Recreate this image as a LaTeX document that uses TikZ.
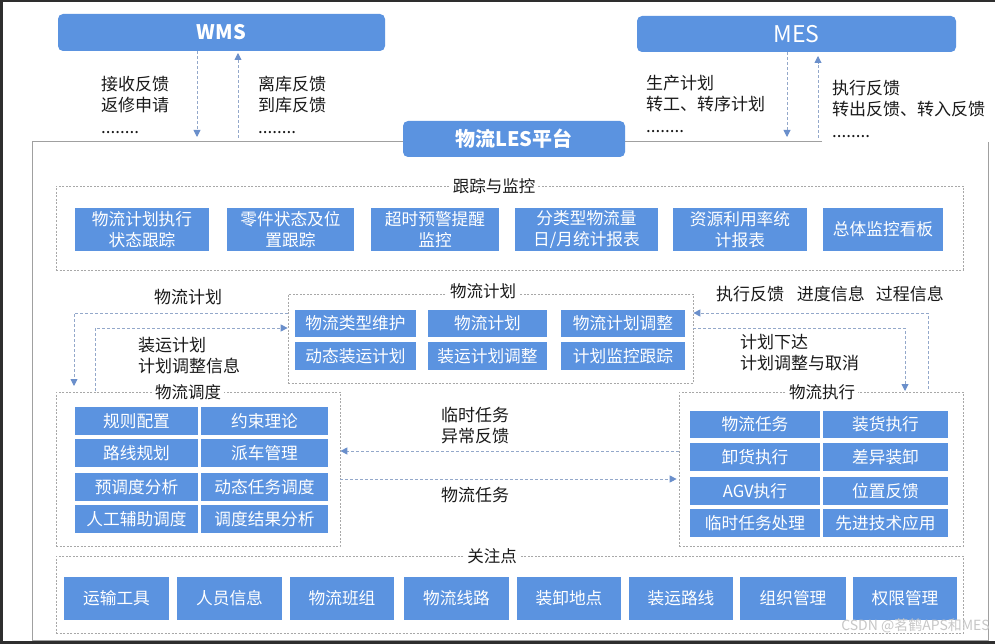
\documentclass[tikz,border=0pt]{standalone}
\usepackage{fontspec}
\setmainfont{Noto Sans CJK SC}
\usetikzlibrary{arrows.meta}
\definecolor{boxblue}{HTML}{5B93E0}
\definecolor{framegray}{HTML}{A8A8A8}
\definecolor{outergray}{HTML}{A0A0A0}
\definecolor{arrowc}{HTML}{93A8CA}
\definecolor{tipc}{HTML}{6A8FCB}
\definecolor{txt}{HTML}{1A1A1A}
\definecolor{edge}{HTML}{2E2E2E}
\newcommand\mybox[7][box]{%
  \node[#1, minimum width={(#5-#3)*1pt}, minimum height={(#6-#4)*1pt}] (#2) at ({(#3+#5)/2},{(#4+#6)/2}) {#7};}
\newcommand\mydots{\\[1pt]........}
\begin{document}
\begin{tikzpicture}[x=1pt,y=-1pt,
  box/.style={fill=boxblue, text=white, inner sep=0pt, align=center, font=\fontsize{16.7}{21.5}\selectfont},
  sysbox/.style={fill=boxblue, text=white, inner sep=0pt, rounded corners=5pt},
  frame/.style={draw=framegray, dash pattern=on 2pt off 1.5pt, line width=0.7pt, inner sep=0pt},
  title/.style={fill=white, text=txt, inner sep=3pt, font=\fontsize{16.5}{18}\selectfont},
  lbl/.style={text=txt, inner sep=0pt, align=left, font=\fontsize{17}{21}\selectfont},
  arr/.style={draw=arrowc, dash pattern=on 3pt off 2pt, line width=0.9pt, -{Triangle[length=7pt,width=7pt,fill=tipc,color=tipc]}},
]
\useasboundingbox (0,0) rectangle (995,644);
\fill[white] (0,0) rectangle (995,644);
% screenshot edges
\fill[edge] (0,0) rectangle (995,2);
\fill[edge] (0,0) rectangle (3,644);
\fill[edge] (0,641) rectangle (995,644);

% outer LES frame
\draw[outergray, line width=0.9pt] (822,141) -- (32,141) -- (32,640) -- (988,640) -- (988,142);

% systems
\mybox[sysbox]{wms}{58}{14}{385}{51}{\fontsize{20}{24}\selectfont\bfseries WMS}
\mybox[sysbox]{mes}{637}{16}{956}{52}{\fontsize{23}{26}\selectfont MES}
\mybox[sysbox]{les}{403}{121}{625}{157}{\fontsize{20}{24}\selectfont\bfseries 物流LES平台}

% WMS arrows
\coordinate (w1) at (197,137);
\coordinate (w2) at (238,138);
\coordinate (w2e) at (238,53);
\draw[arr] (wms.south -| w1) -- (w1);
\draw[arr] (w2) -- (w2e);
\node[lbl, anchor=north west] (wl1) at (101,76) {接收反馈\\返修申请\mydots};
\node[lbl, anchor=north west] (wl2) at (258,76) {离库反馈\\到库反馈\mydots};

% MES arrows
\coordinate (m1) at (787,137);
\coordinate (m2) at (818,138);
\coordinate (m2e) at (818,56);
\draw[arr] (mes.south -| m1) -- (m1);
\draw[arr] (m2) -- (m2e);
\node[lbl, anchor=north west] (ml1) at (646,75) {生产计划\\转工、转序计划\mydots};
\node[lbl, anchor=north west] (ml2) at (832,80) {执行反馈\\转出反馈、转入反馈\mydots};

% tracking
\mybox[frame]{trk}{56}{186}{963}{270}{}
\node[title] (trkt) at (494,186) {跟踪与监控};
\mybox{t1}{75}{208}{209}{251}{物流计划执行\\状态跟踪}
\mybox{t2}{227}{208}{354}{251}{零件状态及位\\置跟踪}
\mybox{t3}{371}{208}{499}{251}{超时预警提醒\\监控}
\mybox{t4}{515}{208}{658}{251}{分类型物流量\\日/月统计报表}
\mybox{t5}{673}{208}{807}{251}{资源利用率统\\计报表}
\mybox{t6}{823}{208}{943}{251}{总体监控看板}

% planning
\mybox[frame]{plan}{288}{294}{693}{383}{}
\node[title] (plant) at (483,291) {物流计划};
\mybox{p1}{295}{310}{416}{337}{物流类型维护}
\mybox{p2}{428}{310}{547}{337}{物流计划}
\mybox{p3}{561}{310}{685}{337}{物流计划调整}
\mybox{p4}{295}{342}{416}{370}{动态装运计划}
\mybox{p5}{428}{342}{547}{370}{装运计划调整}
\mybox{p6}{561}{342}{685}{370}{计划监控跟踪}

% dispatch
\mybox[frame]{disp}{56}{392}{340}{546}{}
\node[title] (dispt) at (188,392) {物流调度};
\mybox{d1}{75}{407}{198}{435}{规则配置}
\mybox{d2}{201}{407}{328}{435}{约束理论}
\mybox{d3}{75}{439}{198}{467}{路线规划}
\mybox{d4}{201}{439}{328}{467}{派车管理}
\mybox{d5}{75}{473}{198}{501}{预调度分析}
\mybox{d6}{201}{473}{328}{501}{动态任务调度}
\mybox{d7}{75}{505}{198}{533}{人工辅助调度}
\mybox{d8}{201}{505}{328}{533}{调度结果分析}

% execution
\mybox[frame]{exec}{679}{392}{963}{546}{}
\node[title] (exect) at (822,392) {物流执行};
\mybox{e1}{690}{411}{820}{438}{物流任务}
\mybox{e2}{823}{411}{948}{438}{装货执行}
\mybox{e3}{690}{443}{820}{471}{卸货执行}
\mybox{e4}{823}{443}{948}{471}{差异装卸}
\mybox{e5}{690}{477}{820}{505}{AGV执行}
\mybox{e6}{823}{477}{948}{505}{位置反馈}
\mybox{e7}{690}{509}{820}{537}{临时任务处理}
\mybox{e8}{823}{509}{948}{537}{先进技术应用}

% attention
\mybox[frame]{att}{56}{556}{963}{633}{}
\node[title] (attt) at (492,556) {关注点};
\mybox{a1}{64}{577}{169}{620}{运输工具}
\mybox{a2}{177}{577}{282}{620}{人员信息}
\mybox{a3}{290}{577}{394}{620}{物流班组}
\mybox{a4}{404}{577}{509}{620}{物流线路}
\mybox{a5}{517}{577}{621}{620}{装卸地点}
\mybox{a6}{629}{577}{733}{620}{装运路线}
\mybox{a7}{740}{577}{846}{620}{组织管理}
\mybox{a8}{853}{577}{957}{620}{权限管理}

% left planning arrows
\coordinate (la1) at (74,313);
\coordinate (la1e) at (74,386);
\draw[arr] (plan.west |- la1) -- (la1) -- (la1e);
\coordinate (la2s) at (95,391);
\coordinate (la2) at (95,328);
\draw[arr] (la2s) -- (la2) -- (la2 -| plan.west);
\node[lbl] (ll1) at (188,297) {物流计划};
\node[lbl, anchor=west] (ll2) at (138,356) {装运计划\\计划调整信息};

% right planning arrows
\coordinate (ra1s) at (928,389);
\coordinate (ra1) at (928,313);
\draw[arr] (ra1s) -- (ra1) -- (ra1 -| plan.east);
\coordinate (ra2) at (905,328);
\coordinate (ra2e) at (905,391);
\draw[arr] (plan.east |- ra2) -- (ra2) -- (ra2e);
\node[lbl] (rl1) at (830,294) {执行反馈\hspace{13pt}进度信息\hspace{11pt}过程信息};
\node[lbl, anchor=west] (rl2) at (740,353) {计划下达\\计划调整与取消};

% middle arrows
\coordinate (ma1) at (0,451);
\coordinate (ma2) at (0,479);
\draw[arr] (exec.west |- ma1) -- (disp.east |- ma1);
\draw[arr] (disp.east |- ma2) -- ([xshift=-2pt]exec.west |- ma2);
\node[lbl, align=center] (mlab1) at (475,426) {临时任务\\异常反馈};
\node[lbl] (mlab2) at (475,495) {物流任务};

% watermark
\node[text=black!22, inner sep=0pt, font=\fontsize{14}{16}\selectfont, anchor=east] (wm) at (990,626) {CSDN @茗鹤APS和MES};
\end{tikzpicture}
\end{document}
